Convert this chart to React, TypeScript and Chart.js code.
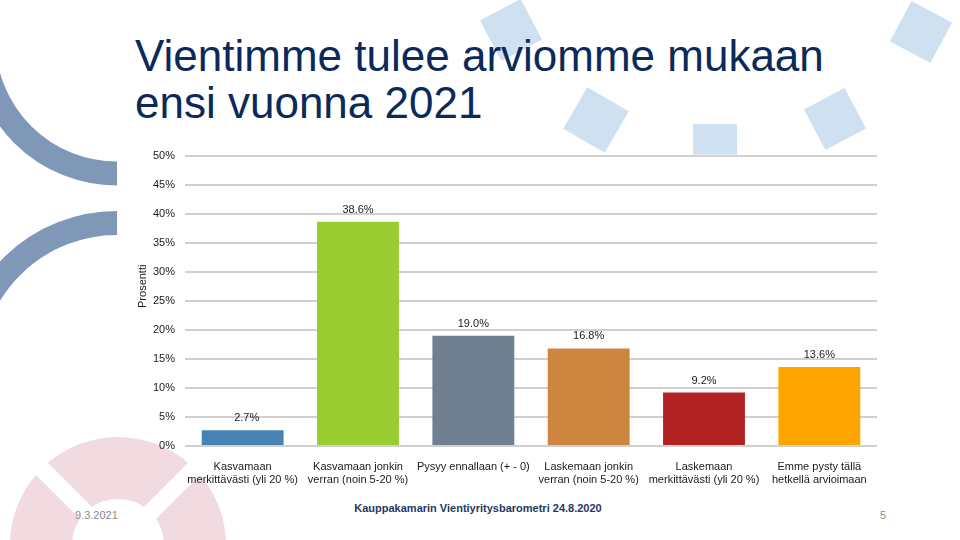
import React, { useEffect, useRef } from 'react'
import Chart from 'chart.js/auto'

const categories = [
    ['Kasvamaan', 'merkittävästi (yli 20 %)'],
    ['Kasvamaan jonkin', 'verran (noin 5-20 %)'],
    ['Pysyy ennallaan (+ - 0)'],
    ['Laskemaan jonkin', 'verran (noin 5-20 %)'],
    ['Laskemaan', 'merkittävästi (yli 20 %)'],
    ['Emme pysty tällä', 'hetkellä arvioimaan'],
]
const values = [2.7, 38.6, 19.0, 16.8, 9.2, 13.6]
const barColors = ['#4682b4', '#9acd32', '#708090', '#cd853f', '#b22222', '#ffa500']
const yMax = 50
const yStep = 5
const yTitle = 'Prosentti'

const FONT = '"Liberation Sans", Arial, sans-serif'

// white plot background, so the decorations don't show through
const plotBg = {
    id: 'plotBg',
    beforeDraw(chart: any) {
        const { ctx, chartArea } = chart
        ctx.save()
        ctx.fillStyle = '#ffffff'
        ctx.fillRect(chartArea.left, chartArea.top - 1, chartArea.right - chartArea.left, chartArea.bottom - chartArea.top + 2)
        ctx.restore()
    },
}

const valueLabels = {
    id: 'valueLabels',
    afterDatasetsDraw(chart: any) {
        const { ctx, chartArea } = chart
        const meta = chart.getDatasetMeta(0)
        ctx.save()
        ctx.font = '11px ' + FONT
        ctx.fillStyle = '#1a1a1a'
        ctx.textAlign = 'center'
        ctx.textBaseline = 'middle'
        meta.data.forEach((bar: any, i: number) => {
            ctx.fillText(values[i].toFixed(1) + '%', bar.x + (i === 0 ? 4 : 0), bar.y - 12)
        })
        // axis title, sits a bit above the middle of the plot like in the original
        ctx.translate(13, chartArea.top + (chartArea.bottom - chartArea.top) * 0.45)
        ctx.rotate(-Math.PI / 2)
        ctx.fillText(yTitle, 0, 0)
        ctx.restore()
    },
}

function BarChart() {
    const ref = useRef<HTMLCanvasElement | null>(null)

    useEffect(() => {
        if (!ref.current) return
        const chart = new Chart(ref.current, {
            type: 'bar',
            data: {
                labels: categories,
                datasets: [
                    {
                        data: values,
                        backgroundColor: barColors,
                        barPercentage: 0.71,
                        categoryPercentage: 1,
                    },
                ],
            },
            options: {
                animation: false,
                responsive: true,
                maintainAspectRatio: false,
                layout: { padding: { top: 4, right: 13, left: 0, bottom: 0 } },
                plugins: {
                    legend: { display: false },
                    tooltip: { enabled: false },
                },
                scales: {
                    x: {
                        grid: { display: false },
                        border: { display: false },
                        ticks: {
                            color: '#1a1a1a',
                            font: { family: FONT, size: 11 },
                            padding: 6,
                            maxRotation: 0,
                            autoSkip: false,
                        },
                        afterFit(scale: any) {
                            scale.height = 39
                        },
                    },
                    y: {
                        min: 0,
                        max: yMax,
                        grid: { color: '#d0d0d0', lineWidth: 2, drawTicks: false },
                        border: { display: false },
                        ticks: {
                            stepSize: yStep,
                            padding: 10,
                            color: '#1a1a1a',
                            font: { family: FONT, size: 11 },
                            callback: (v: any) => v + '%',
                        },
                        afterFit(scale: any) {
                            scale.width = 55
                        },
                    },
                },
            },
            plugins: [plotBg, valueLabels],
        })
        return () => chart.destroy()
    }, [])

    return (
        <div style={{ position: 'absolute', left: 130, top: 139, width: 760, height: 346 }}>
            <canvas ref={ref}></canvas>
        </div>
    )
}

function Decorations() {
    const sq = '#cfe1f1'
    return (
        <svg width={960} height={540} style={{ position: 'absolute', left: 0, top: 0 }}>
            <defs>
                <clipPath id="arc1">
                    <rect x={0} y={40} width={117} height={160} />
                </clipPath>
                <clipPath id="arc2">
                    <rect x={0} y={200} width={117} height={172} />
                </clipPath>
            </defs>
            <circle cx={117} cy={40} r={133.5} fill="none" stroke="#7f98b8" strokeWidth={24} clipPath="url(#arc1)" />
            <circle cx={117} cy={372} r={149} fill="none" stroke="#7f98b8" strokeWidth={24} clipPath="url(#arc2)" />
            <circle cx={118} cy={545} r={77} fill="none" stroke="#f1dbe1" strokeWidth={62} />
            <line x1={18} y1={445} x2={218} y2={645} stroke="#fff" strokeWidth={17} />
            <line x1={218} y1={445} x2={18} y2={645} stroke="#fff" strokeWidth={17} />
            <rect x={488} y={7} width={46} height={46} fill={sq} transform="rotate(-28 511 30)" />
            <rect x={572} y={96} width={48} height={48} fill={sq} transform="rotate(30 596 120)" />
            <rect x={693} y={124} width={44} height={44} fill={sq} />
            <rect x={812} y={96} width={46} height={46} fill={sq} transform="rotate(-28 835 119)" />
            <rect x={898} y={9} width={46} height={46} fill={sq} transform="rotate(28 921 32)" />
        </svg>
    )
}

export default function App() {
    useEffect(() => {
        document.body.style.margin = '0'
    }, [])

    return (
        <div style={{ position: 'relative', width: 960, height: 540, overflow: 'hidden', background: '#fff', fontFamily: FONT }}>
            <Decorations />
            <div
                style={{
                    position: 'absolute',
                    left: 135,
                    top: 32,
                    fontSize: 44,
                    lineHeight: '47px',
                    color: '#0b2a5a',
                }}
            >
                Vientimme tulee arviomme mukaan
                <br />
                ensi vuonna 2021
            </div>
            <BarChart />
            <div
                style={{
                    position: 'absolute',
                    left: 0,
                    width: 956,
                    top: 502,
                    textAlign: 'center',
                    fontSize: 11,
                    fontWeight: 'bold',
                    color: '#1f3864',
                }}
            >
                Kauppakamarin Vientiyritysbarometri 24.8.2020
            </div>
            <div style={{ position: 'absolute', left: 75, top: 509, fontSize: 11, color: '#8a8a8a' }}>9.3.2021</div>
            <div style={{ position: 'absolute', left: 880, top: 509, fontSize: 11, color: '#8a8a8a' }}>5</div>
        </div>
    )
}
